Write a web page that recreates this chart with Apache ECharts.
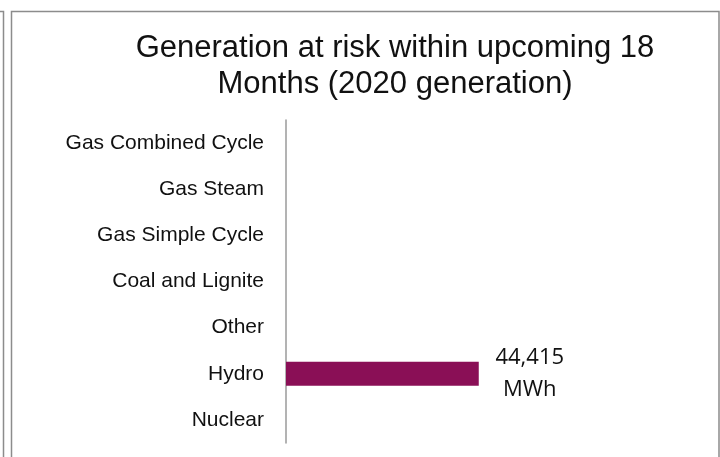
<!DOCTYPE html>
<html>
<head>
<meta charset="utf-8">
<script src="https://cdn.jsdelivr.net/npm/echarts@6/dist/echarts.min.js"></script>
<style>
  html, body { margin: 0; padding: 0; background: #fff; }
  #chart { width: 720px; height: 457px; }
</style>
</head>
<body>
<div id="chart"></div>
<script>
// categories top to bottom, as in the picture
var categories = ['Gas Combined Cycle', 'Gas Steam', 'Gas Simple Cycle', 'Coal and Lignite', 'Other', 'Hydro', 'Nuclear'];
// MWh at risk, 2020 generation (only hydro has a value)
var atRisk = [0, 0, 0, 0, 0, 44415, 0];
var titleText = 'Generation at risk within upcoming 18\nMonths (2020 generation)';

var myChart = echarts.init(document.getElementById('chart'));

var option = {
    backgroundColor: '#fff',
    animation: false,
    title: {
        text: titleText,
        left: 395,
        top: 30,
        padding: 0,
        textAlign: 'center',
        textStyle: {
            fontFamily: 'Liberation Sans',
            fontWeight: 'normal',
            fontSize: 31,
            lineHeight: 36,
            color: '#111'
        }
    },
    graphic: [
        // frame of the neighbouring box and of this one
        { type: 'polyline', shape: { points: [[0, 11.5], [3.5, 11.5], [3.5, 457]] },
          style: { stroke: '#8c8c8c', lineWidth: 1.5, fill: null } },
        { type: 'polyline', shape: { points: [[11.5, 457], [11.5, 11.5], [719, 11.5], [719, 457]] },
          style: { stroke: '#8c8c8c', lineWidth: 1.5, fill: null } }
    ],
    grid: { left: 286, right: 217, top: 120, bottom: 14 },
    xAxis: {
        type: 'value',
        min: 0,
        max: 50000,
        show: false,
        splitLine: { show: false }
    },
    yAxis: {
        type: 'category',
        data: categories,
        inverse: true,
        axisLine: { lineStyle: { color: '#9a9a9a', width: 1.5 } },
        axisTick: { show: false },
        axisLabel: {
            margin: 22,
            fontFamily: 'Liberation Sans',
            fontSize: 21,
            color: '#111'
        }
    },
    series: [{
        type: 'bar',
        data: atRisk,
        barWidth: 24,
        itemStyle: { color: '#8a0f56' },
        label: {
            show: true,
            position: 'right',
            distance: 51,
            align: 'center',
            fontFamily: 'Open Sans',
            fontSize: 22,
            lineHeight: 32,
            color: '#111',
            formatter: function (p) {
                if (!p.value) return '';
                return p.value.toLocaleString('en-US') + '\nMWh';
            }
        }
    }]
};

myChart.setOption(option);
</script>
</body>
</html>
